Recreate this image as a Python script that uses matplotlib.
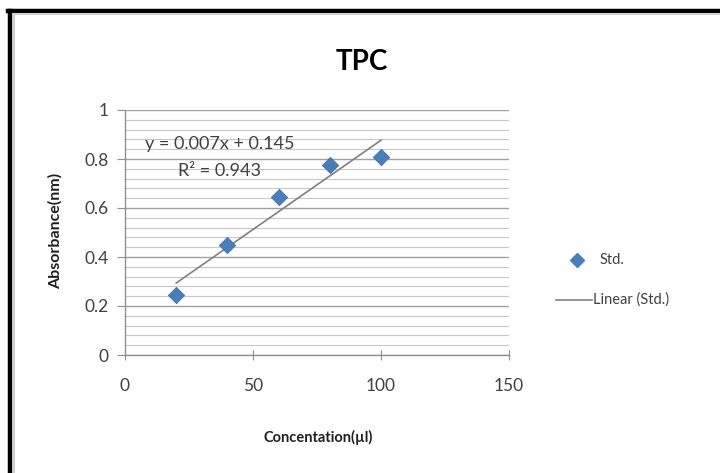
import matplotlib
matplotlib.use("Agg")
import matplotlib.pyplot as plt
import numpy as np
from matplotlib.lines import Line2D

# Data
concentration = [20, 40, 60, 80, 100]
absorbance = [0.245, 0.449, 0.646, 0.776, 0.81]
x_ticks = [0, 50, 100, 150]
y_ticks = [0, 0.2, 0.4, 0.6, 0.8, 1.0]
y_tick_labels = ["0", "0.2", "0.4", "0.6", "0.8", "1"]
title = "TPC"
eq_text = "y = 0.007x + 0.145"
r2_text = "R² = 0.943"

plt.rcParams['font.family'] = ['Lato', 'DejaVu Sans']

fig = plt.figure(figsize=(7.2, 4.73), dpi=100)
fig.patch.set_facecolor("white")
ax = fig.add_axes([125/720, 1-355/473, 384/720, 245/473])

# gridlines
minor_y = np.arange(0, 1.0001, 0.04)
ax.set_yticks(minor_y, minor=True)
ax.grid(axis='y', which='minor', color='#c8c8c8', linewidth=0.8)
ax.grid(axis='y', which='major', color='#a0a0a0', linewidth=1.0)
ax.set_axisbelow(True)

# trendline from fit
coef = np.polyfit(concentration, absorbance, 1)
xs = np.array([min(concentration), max(concentration)])
ax.plot(xs, np.polyval(coef, xs), color='#808080', linewidth=1.2, zorder=3)
ax.scatter(concentration, absorbance, marker='D', s=70, color='#4a7ebb',
           edgecolors='#3a6aa5', linewidths=0.5, zorder=4)

ax.set_xlim(0, 150)
ax.set_ylim(0, 1)
ax.set_xticks(x_ticks)
ax.set_yticks(y_ticks)
ax.set_yticklabels(y_tick_labels)
for s in ['top', 'right']:
    ax.spines[s].set_visible(False)
for s in ['left', 'bottom']:
    ax.spines[s].set_color('#909090')
    ax.spines[s].set_linewidth(1.0)
ax.tick_params(axis='x', which='major', direction='inout', length=7, color='#909090',
               labelsize=12.5, labelcolor='#404040', pad=13)
ax.tick_params(axis='y', which='major', direction='out', length=6, color='#909090',
               labelsize=12.5, labelcolor='#404040', pad=6)
ax.tick_params(axis='y', which='minor', length=0)

ax.text(37, 0.86, eq_text, fontsize=13, color='#404040', ha='center', va='center')
ax.text(37, 0.75, r2_text, fontsize=13, color='#404040', ha='center', va='center')

fig.text(362/720, 1-62/473, title, fontsize=20, fontweight='bold', ha='center', va='center')
fig.text(55/720, 1-231/473, "Absorbance(nm)", fontsize=11.5, fontweight='bold',
         rotation=90, ha='center', va='center', color='#202020')
fig.text(318/720, 1-437/473, "Concentation(µl)", fontsize=10.5, fontweight='bold',
         ha='center', va='center', color='#202020')

# legend (manual)
fig.lines.append(Line2D([577/720], [1-260/473], marker='D', markersize=7, color='#4a7ebb',
                        linestyle='none', transform=fig.transFigure))
fig.text(600/720, 1-260/473, "Std.", fontsize=10.5, color='#404040', va='center')
fig.lines.append(Line2D([556/720, 592/720], [1-300/473, 1-300/473], color='#808080',
                        linewidth=1.2, transform=fig.transFigure))
fig.text(593/720, 1-300/473, "Linear (Std.)", fontsize=10.5, color='#404040', va='center')

# outer frame (left and top black border)
fig.lines.append(Line2D([9.5/720, 9.5/720], [0, 1-11/473], color='black', linewidth=3.2,
                        transform=fig.transFigure))
fig.lines.append(Line2D([8/720, 1], [1-11.5/473, 1-11.5/473], color='black', linewidth=3.2,
                        transform=fig.transFigure))
fig.lines.append(Line2D([13.5/720, 13.5/720], [0, 1-14/473], color='#d0d0d0', linewidth=1.5,
                        transform=fig.transFigure))
fig.lines.append(Line2D([13/720, 1], [1-14.5/473, 1-14.5/473], color='#d0d0d0', linewidth=1.5,
                        transform=fig.transFigure))

fig.savefig("out.png", dpi=100)
